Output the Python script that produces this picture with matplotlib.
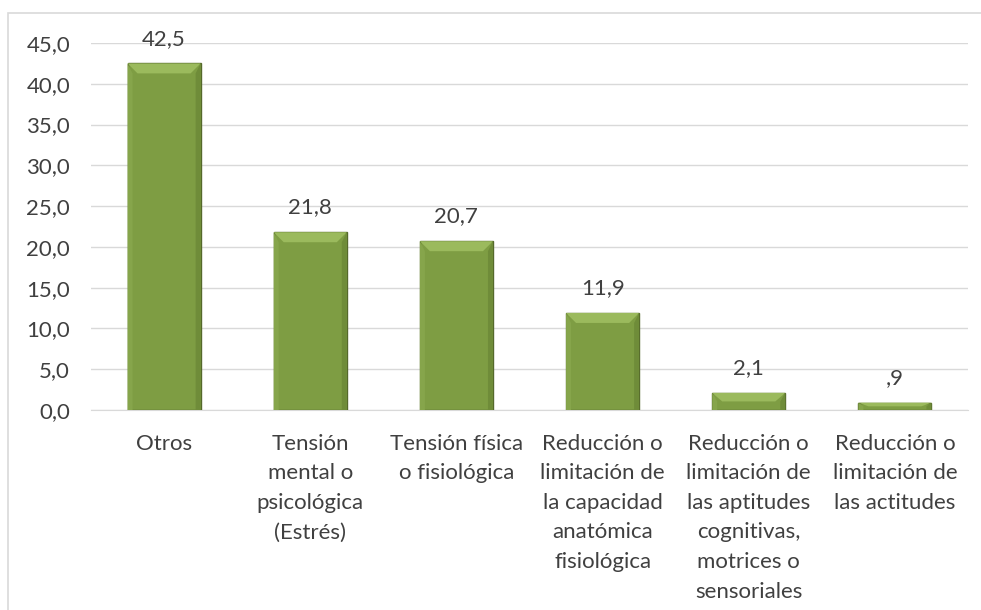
import matplotlib.pyplot as plt
from matplotlib.patches import Rectangle, Polygon

plt.rcParams['font.family'] = ['Lato', 'DejaVu Sans']

categorias = ['Otros',
              'Tensión\nmental o\npsicológica\n(Estrés)',
              'Tensión física\no fisiológica',
              'Reducción o\nlimitación de\nla capacidad\nanatómica\nfisiológica',
              'Reducción o\nlimitación de\nlas aptitudes\ncognitivas,\nmotrices o\nsensoriales',
              'Reducción o\nlimitación de\nlas actitudes']
valores = [42.5, 21.8, 20.7, 11.9, 2.1, 0.9]
etiquetas = ['42,5', '21,8', '20,7', '11,9', '2,1', ',9']
yticks = [0, 5, 10, 15, 20, 25, 30, 35, 40, 45]

texto = '#404040'
fs = 16
fig = plt.figure(figsize=(9.81, 6.10), dpi=100)
ax = fig.add_axes([91/981, 1 - 410/610, (968 - 91)/981, (410 - 43)/610])

x = range(len(valores))
bars = ax.bar(x, valores, width=0.5, color='#7E9D43', edgecolor='#55692B',
              linewidth=1, zorder=3)

# bisel simple: franja clara arriba y a los lados
ppd = (410 - 43) / 45.0  # pixeles por unidad
ppx = 73 / 0.5           # pixeles por categoria
for b in bars:
    x0, w, h = b.get_x(), b.get_width(), b.get_height()
    dy = min(10 / ppd, h / 2)
    dx = 5 / ppx
    ax.add_patch(Polygon([(x0, h), (x0 + w, h), (x0 + w - 2 * dx, h - dy), (x0 + 2 * dx, h - dy)],
                         closed=True, facecolor='#9BBA5D', edgecolor='none', zorder=4))
    ax.add_patch(Polygon([(x0, 0), (x0, h), (x0 + dx, h - dy), (x0 + dx, 0)],
                         closed=True, facecolor='#86A54B', edgecolor='none', zorder=4))
    ax.add_patch(Polygon([(x0 + w, 0), (x0 + w, h), (x0 + w - dx, h - dy), (x0 + w - dx, 0)],
                         closed=True, facecolor='#6F8C39', edgecolor='none', zorder=4))

for xi, v, lab in zip(x, valores, etiquetas):
    ax.text(xi, v + 1.8, lab, ha='center', va='bottom', fontsize=fs, color=texto)

ax.set_xlim(-0.5, len(valores) - 0.5)
ax.set_ylim(0, 45)
ax.set_yticks(yticks)
ax.set_yticklabels([f'{t:.1f}'.replace('.', ',') for t in yticks], fontsize=fs, color=texto)
ax.set_xticks(list(x))
ax.set_xticklabels(categorias, fontsize=fs, color=texto, linespacing=1.6, va='top')
ax.tick_params(axis='both', length=0)
ax.tick_params(axis='x', pad=17)
ax.tick_params(axis='y', pad=15)
ax.yaxis.grid(True, color='#D9D9D9', linewidth=1)
ax.set_axisbelow(True)
for s in ['top', 'right', 'left']:
    ax.spines[s].set_visible(False)
ax.spines['bottom'].set_color('#D9D9D9')

# borde del area del grafico (solo se ven el lado izquierdo y el superior)
fig.patches.append(Rectangle((8/981, -0.1), 1.2, 1.1 - 13/610, transform=fig.transFigure,
                             fill=False, edgecolor='#D9D9D9', linewidth=1.2))

fig.savefig('out.png', dpi=100)
